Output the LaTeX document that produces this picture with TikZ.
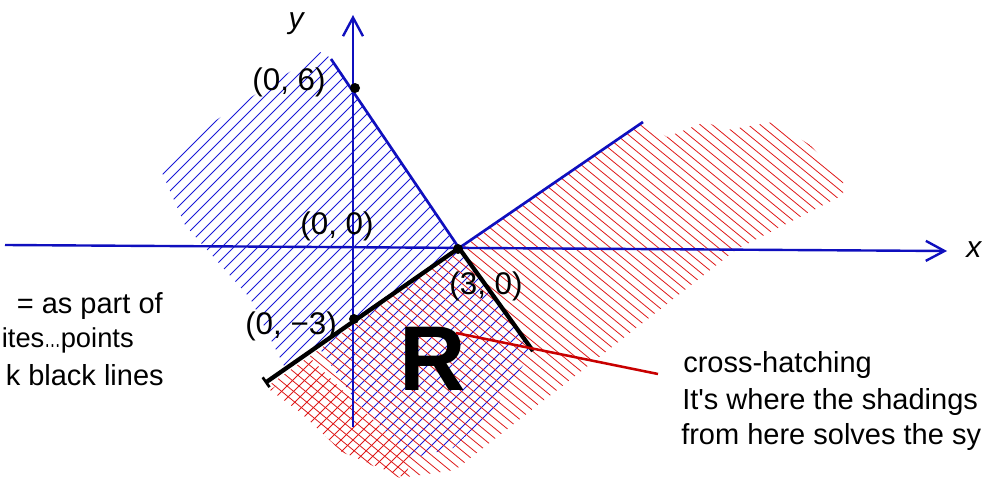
\documentclass[tikz,border=0pt]{standalone}
\usepackage{fontspec}
\newfontfamily\lsans{Liberation Sans}
\usetikzlibrary{arrows.meta}
\definecolor{axblue}{RGB}{15,15,190}
\definecolor{hblue}{RGB}{25,25,215}
\definecolor{hred}{RGB}{222,25,25}
\definecolor{ptred}{RGB}{200,0,0}
\tikzset{
  lbl/.style={font=\lsans\fontsize{23.5}{28}\selectfont, inner sep=0pt},
  txt/.style={font=\lsans\fontsize{21.75}{26}\selectfont, inner sep=0pt},
  axis/.style={draw=axblue, line width=1.8pt},
  bline/.style={draw=axblue, line width=2pt},
  blk/.style={draw=black, line width=3.2pt},
  hb/.style={draw=hblue, line width=0.6pt},
  hr/.style={draw=hred, line width=0.6pt},
  dot/.style={circle, fill=black, inner sep=0pt, minimum size=7.5pt},
  barb/.style={-{Straight Barb[length=14pt,width=15pt,line width=1.8pt]}},
}
\begin{document}
\begin{tikzpicture}[x=0.75pt,y=-0.75pt]
\useasboundingbox (0,0) rectangle (983,481);
% ---------- hatching ----------
% blue "/" lines
\begin{scope}
\clip (320,52) -- (331,58) -- (458,249) -- (533,350) -- (495,408) -- (453,448)
  -- (412,458) -- (355,400) -- (318,346) -- (285,368) -- (250,298) -- (185,225)
  -- (160,168) -- (192,136) -- cycle;
\foreach \t in {-480,-468,...,980} \draw[hb] (\t,481) -- ++(481,-481);
\end{scope}
% red "/" lines (lower left)
\begin{scope}
\clip (270,390) -- (312,360) -- (352,400) -- (412,456) -- (405,478) -- (342,452) -- (300,412) -- cycle;
\foreach \t in {-480,-468,...,980} \draw[hr] (\t,481) -- ++(481,-481);
\end{scope}
% red "\" lines
\begin{scope}
\clip (268,386) -- (458,250) -- (643,122) -- (667,137) -- (705,122) -- (727,130)
  -- (773,122) -- (810,145) -- (843,180) -- (843,195) -- (737,249) -- (455,470)
  -- (400,478) -- (342,452) -- (300,412) -- (277,394) -- cycle;
\foreach \t in {-700,-688,...,980} \draw[hr] (\t,0) -- ++(587,481);
\end{scope}
% ---------- axes ----------
\coordinate (xl) at (5,245);
\coordinate (xr) at (947,251);
\coordinate (yb) at (353,427);
\coordinate (yt) at (353,15);
\draw[axis,barb] (xl) -- (xr);
\draw[axis,barb] (yb) -- (yt);
\node[lbl, font=\lsans\itshape\fontsize{22.5}{27}\selectfont, anchor=west] (xlab) at (966,250) {x};
\node[lbl, font=\lsans\itshape\fontsize{22.5}{27}\selectfont] (ylab) at (296,24) {y};
% ---------- boundary lines ----------
\coordinate (l1a) at (331,59);
\coordinate (v) at (459,248);
\coordinate (l2a) at (354,320);
\coordinate (l2b) at (643,122);
\draw[bline] (l1a) -- (v);
\draw[bline] (l2a) -- (l2b);
\coordinate (bl) at (265,383);
\coordinate (br) at (533,351);
\draw[blk, {Bar[width=9pt,line width=2pt]}-] (bl) -- (v) -- (br);
% ---------- dots ----------
\node[dot] (p06) at (355,88) {};
\node[dot] (p0m3) at (354,319) {};
\node[dot] (p30) at (458,249) {};
% ---------- labels ----------
\node[lbl] (t06) at (289,82) {(0, 6)};
\node[lbl] (t00) at (337,226) {(0, 0)};
\node[lbl] (t30) at (486,286) {(3, 0)};
\node[lbl] (t0m3) at (291,326) {(0, −3)};
\node[font=\lsans\bfseries\fontsize{69}{70}\selectfont, inner sep=0pt] (R) at (433,359) {R};
% ---------- pointer ----------
\coordinate (ps) at (456,333);
\coordinate (pe) at (658,374);
\draw[draw=ptred, line width=1.9pt] (ps) -- (pe);
\node[txt, anchor=base west] (c1) at (683,373) {cross-hatching};
\node[txt, anchor=base west] (c2) at (682,409) {It's where the shadings};
\node[txt, anchor=base west] (c3) at (681,445) {from here solves the sy};
% ---------- left text ----------
\node[txt, anchor=base east] (a1) at (163,314) {= as part of};
\node[txt, font=\lsans\fontsize{20.5}{25}\selectfont, anchor=base east] (a2) at (134,348) {ites\scalebox{0.6}[1]{…}points};
\node[txt, anchor=base east] (a3) at (164,386) {k black lines};
\end{tikzpicture}
\end{document}
